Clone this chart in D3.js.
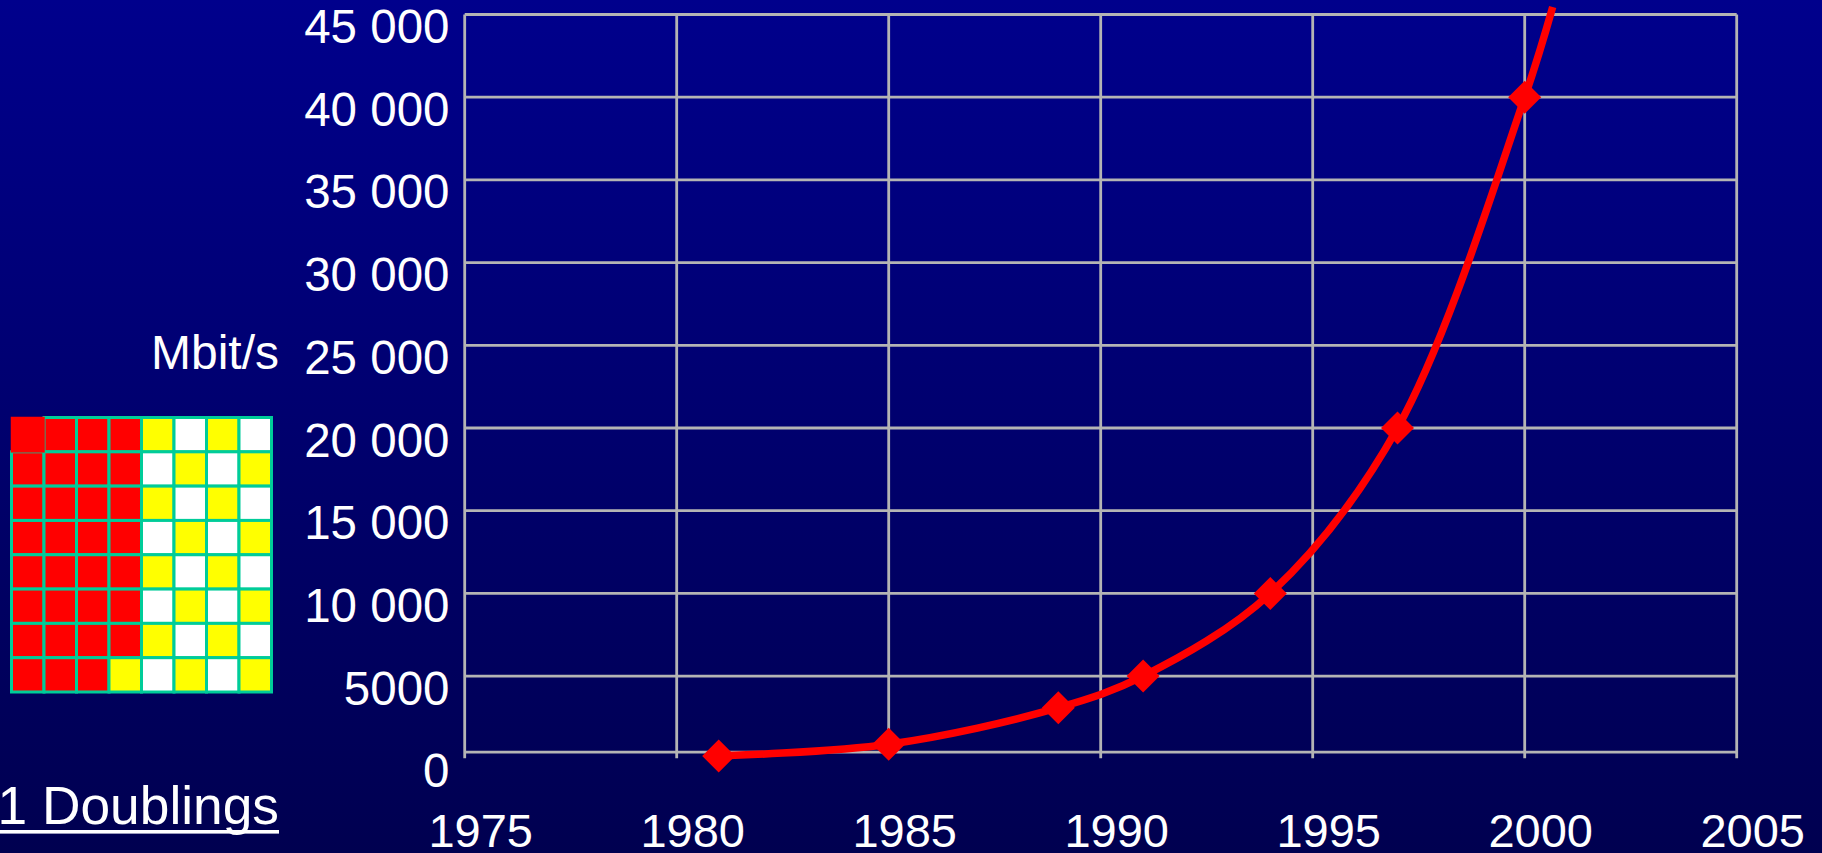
<!DOCTYPE html>
<html><head><meta charset="utf-8">
<script src="https://cdn.jsdelivr.net/npm/d3@7"></script>
<style>html,body{margin:0;padding:0;background:#000058;overflow:hidden}svg{display:block}text{font-family:"Liberation Sans",Arial,sans-serif;fill:#fff}</style>
</head><body><svg id="c" width="1822" height="853"></svg>
<script>
const years=[1980.99,1985,1989,1991,1994,1997,2000,2000.66];
const mbits=[170,880,3090,5000,10000,20000,40000,45450];
const markerCount=7;
const xTicks=[1975,1980,1985,1990,1995,2000,2005];
const yTicks=[0,5000,10000,15000,20000,25000,30000,35000,40000,45000];
const yLabels=["0","5000","10 000","15 000","20 000","25 000","30 000","35 000","40 000","45 000"];
const axisFloor=400;
const gridRows=["BRRRYWYW","RRRRWYWY","RRRRYWYW","RRRRWYWY","RRRRYWYW","RRRRWYWY","RRRRYWYW","RRRYWYWY"];
const cellColors={B:"#ff0000",R:"#ff0000",Y:"#ffff00",W:"#ffffff"};

const svg=d3.select("#c");
const defs=svg.append("defs");
const g=defs.append("linearGradient").attr("id","bg").attr("x1",0).attr("y1",0).attr("x2",0).attr("y2",1);
g.append("stop").attr("offset",0).attr("stop-color","#00008c");
g.append("stop").attr("offset",1).attr("stop-color","#000050");
svg.append("rect").attr("width",1822).attr("height",853).attr("fill","url(#bg)");

const x=d3.scaleLinear().domain([1975,2005]).range([464.7,1736.7]);
const y=d3.scaleLinear().domain([0,45000]).range([758.8,14.5]);
const bottom=y(axisFloor);

const grid=svg.append("g").attr("stroke","#b4b4b4").attr("stroke-width",2.8);
grid.selectAll("line.h").data([axisFloor].concat(yTicks.slice(1))).join("line").attr("class","h")
  .attr("x1",x(1975)).attr("x2",x(2005)).attr("y1",d=>y(d)).attr("y2",d=>y(d));
grid.selectAll("line.v").data(xTicks).join("line").attr("class","v")
  .attr("x1",d=>x(d)).attr("x2",d=>x(d)).attr("y1",y(45000)).attr("y2",bottom+6);

svg.append("g").attr("font-size",47.5).attr("text-anchor","end").selectAll("text").data(yTicks).join("text")
  .attr("x",449.5).attr("y",d=>y(d)+28.5).text((d,i)=>yLabels[i]);
svg.append("g").attr("font-size",47).attr("text-anchor","middle").selectAll("text").data(xTicks).join("text")
  .attr("x",d=>x(d)+16).attr("y",846.5).text(d=>d);

const pts=years.map((d,i)=>[d,mbits[i]]);
const line=d3.line().x(d=>x(d[0])).y(d=>y(d[1])).curve(d3.curveCatmullRom.alpha(0.5));
svg.append("path").attr("d",line(pts)).attr("fill","none").attr("stroke","#ff0000").attr("stroke-width",7.5);
const sym=d3.symbol().type(d3.symbolSquare).size(2*16.5*16.5);
svg.append("g").selectAll("path").data(pts.slice(0,markerCount)).join("path")
  .attr("d",sym).attr("fill","#ff0000")
  .attr("transform",d=>`translate(${x(d[0])},${y(d[1])}) rotate(45)`);

svg.append("text").attr("x",279).attr("y",369).attr("font-size",48).attr("text-anchor","end").text("Mbit/s");

const cx=d3.scaleBand().domain(d3.range(8)).range([11.5,271.5]);
const cy=d3.scaleBand().domain(d3.range(8)).range([417.5,692]);
const cells=gridRows.flatMap((r,ri)=>r.split("").map((k,ci)=>({r:ri,c:ci,k})));
cells.sort((a,b)=>(a.k==="B")-(b.k==="B"));
svg.append("g").selectAll("rect").data(cells).join("rect")
  .attr("x",d=>cx(d.c)).attr("y",d=>cy(d.r)).attr("width",cx.bandwidth()).attr("height",cy.bandwidth())
  .attr("fill",d=>cellColors[d.k]).attr("stroke",d=>d.k==="B"?"#ff0000":"#00cc99").attr("stroke-width",d=>d.k==="B"?1.5:3);

svg.append("text").attr("x",279).attr("y",824).attr("font-size",53.3).attr("text-anchor","end").text("1 Doublings");
svg.append("rect").attr("x",0).attr("y",830).attr("width",279).attr("height",3.6).attr("fill","#fff");
</script></body></html>
